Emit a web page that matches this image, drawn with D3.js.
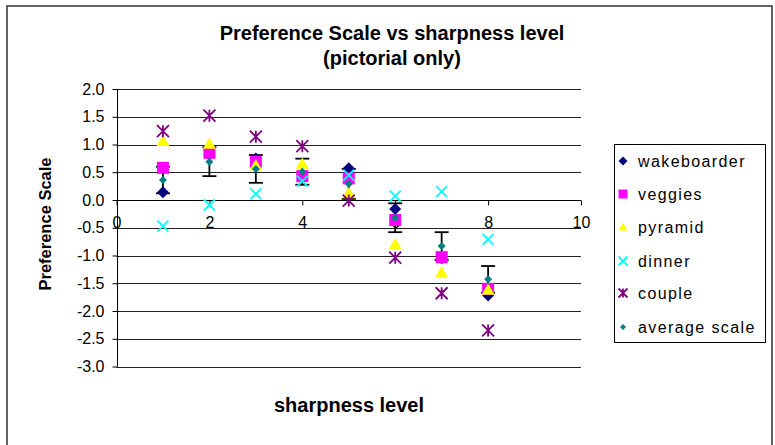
<!DOCTYPE html>
<html><head><meta charset="utf-8">
<script src="https://cdn.jsdelivr.net/npm/d3@7"></script>
<style>
body{margin:0;background:#fff;}
svg text{font-family:"Liberation Sans",Arial,sans-serif;}
</style></head>
<body><svg id="c" width="775" height="445"></svg>
<script>
const sharpness = [1,2,3,4,5,6,7,8];
const wakeboarder = [0.14,0.82,0.75,0.45,0.57,-0.16,-1.05,-1.72];
const veggies     = [0.58,0.85,0.69,0.43,0.39,-0.36,-1.03,-1.60];
const pyramid     = [1.06,1.01,0.62,0.65,0.12,-0.80,-1.31,-1.62];
const dinner      = [-0.47,-0.09,0.11,0.34,0.45,0.07,0.15,-0.71];
const couple      = [1.24,1.52,1.14,0.97,-0.01,-1.04,-1.68,-2.35];
const averageScale= [0.36,0.69,0.56,0.51,0.29,-0.32,-0.83,-1.43];
const averageErr  = [0.24,0.26,0.25,0.235,0.27,0.26,0.25,0.24];
const xTicks = [0,2,4,6,8,10];
const yTicks = [2.0,1.5,1.0,0.5,0.0,-0.5,-1.0,-1.5,-2.0,-2.5,-3.0];
const seriesNames = ["wakeboarder","veggies","pyramid","dinner","couple","average scale"];

const series = [
  {name:seriesNames[0], values:wakeboarder, shape:"diamond", color:"#000080", size:6},
  {name:seriesNames[1], values:veggies, shape:"square", color:"#FF00FF", size:6},
  {name:seriesNames[2], values:pyramid, shape:"triangle", color:"#FFFF00", size:6.5},
  {name:seriesNames[3], values:dinner, shape:"x", color:"#00FFFF", size:5.5},
  {name:seriesNames[4], values:couple, shape:"star", color:"#800080", size:6},
  {name:seriesNames[5], values:averageScale, shape:"diamond", color:"#008080", size:4}
];

const svg = d3.select("#c");
svg.append("rect").attr("x",7).attr("y",6).attr("width",765).attr("height",460)
  .attr("fill","#fff").attr("stroke","#333").attr("stroke-width",1.5);

const x = d3.scaleLinear().domain([0,10]).range([116.5,581]);
const y = d3.scaleLinear().domain([-3,2]).range([366.5,89]);

// gridlines
svg.append("g").selectAll("line").data(yTicks).join("line")
  .attr("x1",x(0)).attr("x2",x(10))
  .attr("y1",d=>Math.round(y(d))+0.5).attr("y2",d=>Math.round(y(d))+0.5)
  .attr("stroke","#222").attr("stroke-width",1);

// y axis
const yAxis = d3.axisLeft(y).tickValues(yTicks).tickFormat(d3.format(".1f")).tickSize(5).tickPadding(8);
const gy = svg.append("g").attr("transform",`translate(${Math.round(x(0))+0.5},0)`).call(yAxis);
gy.select(".domain").remove();
gy.append("line").attr("y1",y(2)).attr("y2",y(-3)).attr("stroke","#000");
gy.selectAll(".tick line").attr("stroke","#000");
gy.selectAll(".tick text").attr("fill","#000").style("font-size","16px")
  .text(d=>d3.format(".1f")(d).replace("−","-"));

// x axis at y=0
const xAxis = d3.axisBottom(x).tickValues(xTicks).tickFormat(d3.format("d")).tickSize(5).tickPadding(11);
const gx = svg.append("g").attr("transform",`translate(0,${Math.round(y(0))+0.5})`).call(xAxis);
gx.select(".domain").attr("d",`M${x(0)},0H${x(10)}`).attr("stroke","#000");
gx.selectAll(".tick line").attr("stroke","#000");
gx.selectAll(".tick text").attr("fill","#000").style("font-size","16px");

// error bars on average
const eg = svg.append("g");
sharpness.forEach((s,i)=>{
  const cx = x(s), hi = y(averageScale[i]+averageErr[i]), lo = y(averageScale[i]-averageErr[i]);
  eg.append("line").attr("x1",cx).attr("x2",cx).attr("y1",hi).attr("y2",lo).attr("stroke","#000").attr("stroke-width",1.8);
  eg.append("line").attr("x1",cx-7).attr("x2",cx+7).attr("y1",hi).attr("y2",hi).attr("stroke","#000").attr("stroke-width",1.8);
  eg.append("line").attr("x1",cx-7).attr("x2",cx+7).attr("y1",lo).attr("y2",lo).attr("stroke","#000").attr("stroke-width",1.8);
});

function drawMarker(g, shape, cx, cy, r, color){
  if(shape==="diamond"){
    g.append("path").attr("d",`M${cx},${cy-r}L${cx+r},${cy}L${cx},${cy+r}L${cx-r},${cy}Z`).attr("fill",color);
  } else if(shape==="square"){
    g.append("rect").attr("x",cx-r).attr("y",cy-r).attr("width",2*r).attr("height",2*r).attr("fill",color);
  } else if(shape==="triangle"){
    g.append("path").attr("d",`M${cx},${cy-r}L${cx+r},${cy+r*0.75}L${cx-r},${cy+r*0.75}Z`).attr("fill",color);
  } else if(shape==="x"){
    g.append("path").attr("d",`M${cx-r},${cy-r}L${cx+r},${cy+r}M${cx+r},${cy-r}L${cx-r},${cy+r}`)
      .attr("stroke",color).attr("stroke-width",1.8).attr("fill","none");
  } else if(shape==="star"){
    g.append("path").attr("d",`M${cx-r},${cy-r}L${cx+r},${cy+r}M${cx+r},${cy-r}L${cx-r},${cy+r}M${cx},${cy-r}L${cx},${cy+r}`)
      .attr("stroke",color).attr("stroke-width",1.8).attr("fill","none");
  }
}

const mg = svg.append("g");
series.forEach(se=>{
  const g = mg.append("g");
  se.values.forEach((v,i)=>drawMarker(g, se.shape, x(sharpness[i]), y(v), se.size, se.color));
});

// titles
svg.append("text").attr("x",392).attr("y",40).attr("text-anchor","middle")
  .style("font-size","20px").style("font-weight","bold").text("Preference Scale vs sharpness level");
svg.append("text").attr("x",392).attr("y",65).attr("text-anchor","middle")
  .style("font-size","20px").style("font-weight","bold").text("(pictorial only)");
svg.append("text").attr("x",349).attr("y",412).attr("text-anchor","middle")
  .style("font-size","20px").style("font-weight","bold").text("sharpness level");
svg.append("text").attr("transform","translate(51,224) rotate(-90)").attr("text-anchor","middle")
  .style("font-size","16.5px").style("font-weight","bold").text("Preference Scale");

// legend
const lg = svg.append("g");
lg.append("rect").attr("x",614.5).attr("y",144.5).attr("width",151).attr("height",198)
  .attr("fill","#fff").attr("stroke","#000");
const legY = [161,194,227,261,293,327];
series.forEach((se,i)=>{
  drawMarker(lg, se.shape, 623, legY[i], i===5 ? 3 : 4.5, se.color);
  lg.append("text").attr("x",638).attr("y",legY[i]+6).style("font-size","16px").style("letter-spacing","1.4px").text(se.name);
});
</script></body></html>
